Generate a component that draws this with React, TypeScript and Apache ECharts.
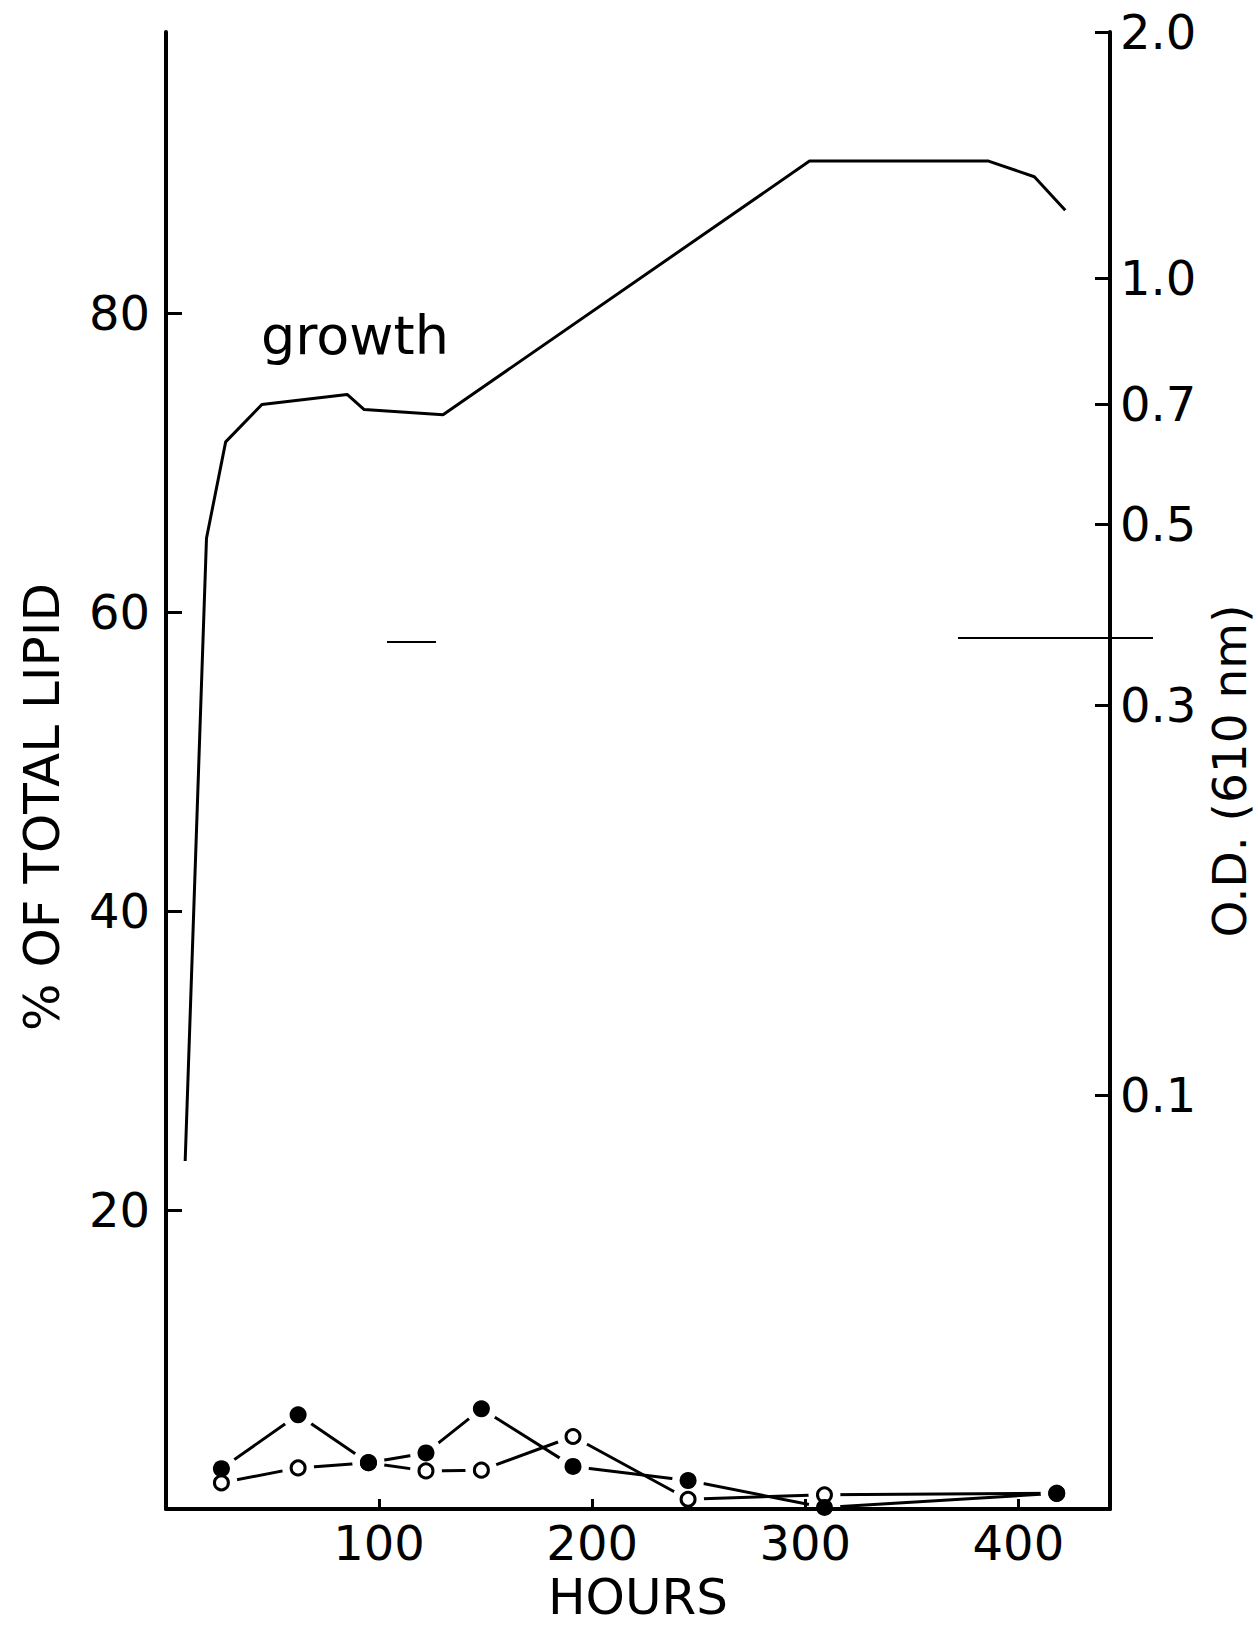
import React, { useEffect, useRef } from "react";
import * as echarts from "echarts";

// Axis tick values
const xTicks = [100, 200, 300, 400];
const lipidTicks = [20, 40, 60, 80];
const odTicks = [0.1, 0.3, 0.5, 0.7, 1.0, 2.0];

// Growth curve (O.D. at 610 nm, right log axis)
const growthHours = [9, 19, 28, 45, 85, 93, 130, 302, 386, 407.5, 422];
const growthOD = [0.083, 0.48, 0.63, 0.7, 0.72, 0.69, 0.68, 1.39, 1.39, 1.33, 1.21];

// Lipid fractions (% of total lipid, left axis)
const lipidHours = [26, 62, 95, 122, 148, 191, 245, 309, 418];
const filledPct = [2.7, 6.3, 3.1, 3.75, 6.7, 2.85, 1.9, 0.1, 1.05];
const openPct = [1.75, 2.75, 3.1, 2.55, 2.6, 4.85, 0.65, 0.95, 1.05];

const FONT = "DejaVu Sans";

export default function App() {
  const ref = useRef<HTMLDivElement>(null);

  useEffect(() => {
    if (!ref.current) return;
    const chart = echarts.init(ref.current, null, { renderer: "svg" });
    const lg = (v: number) => Math.log10(v);

    const growthData = growthHours.map((h, i) => [h, lg(growthOD[i])]);
    const filledData = lipidHours.map((h, i) => [h, filledPct[i]]);
    const openData = lipidHours.map((h, i) => [h, openPct[i]]);

    const axisLine = { show: true, lineStyle: { color: "#000", width: 4 } };
    const labelStyle = { color: "#000", fontFamily: FONT, fontSize: 48 };

    chart.setOption({
      animation: false,
      backgroundColor: "#fff",
      grid: {
        left: 166,
        right: 148,
        top: 32,
        bottom: 118,
        containLabel: false,
        outerBoundsMode: "none",
      },
      xAxis: {
        type: "value",
        min: 0,
        max: 443,
        zlevel: 1,
        z: 10,
        axisLine,
        axisTick: {
          show: true,
          inside: true,
          length: 10,
          lineStyle: { color: "#000", width: 3 },
          customValues: xTicks,
        },
        axisLabel: { ...labelStyle, customValues: xTicks, margin: 10 },
        splitLine: { show: false },
        name: "HOURS",
        nameLocation: "middle",
        nameGap: 60,
        nameTextStyle: { color: "#000", fontFamily: FONT, fontSize: 50 },
      },
      yAxis: [
        {
          type: "value",
          position: "left",
          min: 0,
          max: 98.8,
          zlevel: 1,
          z: 10,
          axisLine,
          axisTick: {
            show: true,
            inside: true,
            length: 16,
            lineStyle: { color: "#000", width: 3 },
            customValues: lipidTicks,
          },
          axisLabel: { ...labelStyle, customValues: lipidTicks, margin: 16 },
          splitLine: { show: false },
        },
        {
          type: "value",
          position: "right",
          min: -1.507,
          max: Math.log10(2),
          zlevel: 1,
          z: 10,
          axisLine,
          axisTick: {
            show: true,
            inside: true,
            length: 15,
            lineStyle: { color: "#000", width: 3 },
            customValues: odTicks.map(lg),
          },
          axisLabel: {
            ...labelStyle,
            customValues: odTicks.map(lg),
            margin: 10,
            formatter: (v: number) => Math.pow(10, v).toFixed(1),
          },
          splitLine: { show: false },
        },
      ],
      series: [
        {
          name: "growth",
          type: "line",
          yAxisIndex: 1,
          data: growthData,
          symbol: "none",
          lineStyle: { color: "#000", width: 3 },
          z: 2,
        },
        {
          name: "filled line",
          type: "line",
          data: filledData,
          symbol: "none",
          lineStyle: { color: "#000", width: 3 },
          z: 2,
        },
        {
          name: "open line",
          type: "line",
          data: openData,
          symbol: "none",
          lineStyle: { color: "#000", width: 3 },
          z: 2,
        },
        {
          type: "scatter",
          data: filledData,
          symbol: "circle",
          symbolSize: 32,
          itemStyle: { color: "#fff", opacity: 1 },
          zlevel: 1,
          z: 3,
          silent: true,
        },
        {
          type: "scatter",
          data: openData,
          symbol: "circle",
          symbolSize: 32,
          itemStyle: { color: "#fff", opacity: 1 },
          zlevel: 1,
          z: 3,
          silent: true,
        },
        {
          name: "open",
          type: "scatter",
          data: openData,
          symbol: "circle",
          symbolSize: 14,
          itemStyle: { color: "#fff", borderColor: "#000", borderWidth: 3, opacity: 1 },
          zlevel: 1,
          z: 4,
        },
        {
          name: "filled",
          type: "scatter",
          data: filledData,
          symbol: "circle",
          symbolSize: 17,
          itemStyle: { color: "#000", opacity: 1 },
          zlevel: 1,
          z: 5,
        },
      ],
      graphic: [
        {
          type: "text",
          x: 261,
          y: 335,
          style: {
            text: "growth",
            fontFamily: FONT,
            fontSize: 54,
            fill: "#000",
            align: "left",
            verticalAlign: "middle",
          },
        },
        {
          type: "text",
          x: 42,
          y: 807,
          rotation: Math.PI / 2,
          style: {
            text: "% OF TOTAL LIPID",
            fontFamily: FONT,
            fontSize: 50,
            fill: "#000",
            align: "center",
            verticalAlign: "middle",
          },
        },
        {
          type: "text",
          x: 1229,
          y: 771,
          rotation: Math.PI / 2,
          style: {
            text: "O.D. (610 nm)",
            fontFamily: FONT,
            fontSize: 47,
            fill: "#000",
            align: "center",
            verticalAlign: "middle",
          },
        },
        {
          type: "line",
          shape: { x1: 958, y1: 638, x2: 1153, y2: 638 },
          style: { stroke: "#000", lineWidth: 2 },
        },
        {
          type: "line",
          shape: { x1: 387, y1: 642, x2: 436, y2: 642 },
          style: { stroke: "#000", lineWidth: 2 },
        },
      ],
    });

    return () => chart.dispose();
  }, []);

  return (
    <div
      ref={ref}
      style={{
        position: "absolute",
        left: 0,
        top: 0,
        width: 1258,
        height: 1627,
        background: "#fff",
      }}
    />
  );
}
